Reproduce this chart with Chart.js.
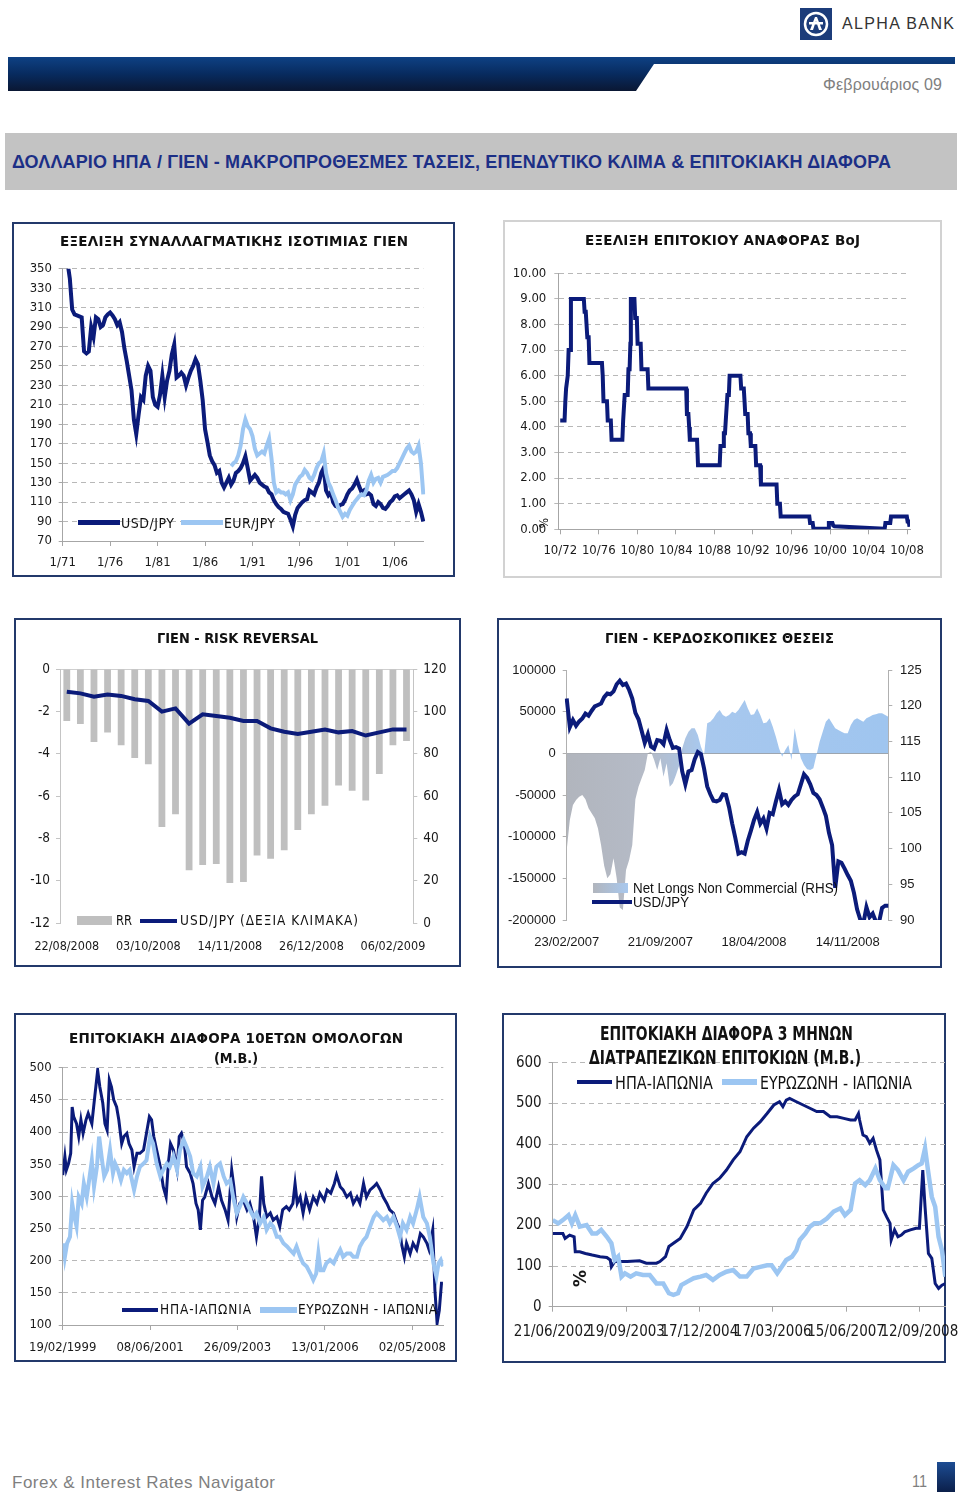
<!DOCTYPE html>
<html lang="el"><head><meta charset="utf-8"><title>USD/JPY</title>
<script src="https://cdn.jsdelivr.net/npm/chart.js@4.4.1/dist/chart.umd.min.js"></script>
<style>
html,body{margin:0;padding:0;background:#fff}
body{position:relative;width:960px;height:1494px;overflow:hidden}
.box{position:absolute;box-sizing:border-box;border:2px solid #23396b;background:#fff}
.t{position:absolute;white-space:nowrap;line-height:1;margin:0}
.r{position:absolute}
canvas{position:absolute}
</style></head><body>
<div class="r" style="left:8px;top:57px;width:947px;height:34px;background:linear-gradient(#0e4184,#082b5f 50%,#0a1733);clip-path:polygon(0 0,947px 0,947px 7px,646px 7px,628px 34px,0 34px)"></div>
<svg class="r" style="left:800px;top:8px" width="32" height="32"><rect width="32" height="32" fill="#1c3c7a"/><circle cx="16" cy="16" r="11" fill="none" stroke="#fff" stroke-width="2.5"/><path d="M10 22 L15 9 L17 9 L22 22 L19 22 L16 13 L13 22 Z M9 14 L23 14 L23 16.5 L9 16.5 Z" fill="#fff"/></svg>
<div class="r" style="left:5px;top:133px;width:952px;height:57px;background:#c3c3c3"></div>
<div class="box" style="left:12px;top:222px;width:443px;height:355px"></div>
<div class="box" style="left:503px;top:220px;width:439px;height:358px;border-color:#d2d2d2"></div>
<div class="box" style="left:14px;top:618px;width:447px;height:349px"></div>
<div class="box" style="left:497px;top:618px;width:445px;height:350px"></div>
<div class="box" style="left:14px;top:1013px;width:443px;height:349px"></div>
<div class="box" style="left:502px;top:1013px;width:444px;height:350px"></div>
<div class="r" style="left:937px;top:1462px;width:18px;height:30px;background:linear-gradient(#1d4c93,#0b1f4a)"></div>
<script>
// ================= DATA =================
// Chart 1: USD/JPY & EUR/JPY (quarterly)
const c1Labels = [];
for (let y = 1971; y <= 2009; y++) for (const m of [1,4,7,10]) { if (y === 2009 && m > 1) break; c1Labels.push(m + '/' + String(y % 100).padStart(2,'0')); }
const c1TickLabels = ['1/71','1/76','1/81','1/86','1/91','1/96','1/01','1/06'];
const c1Usd = [358,358,357,340,308,303,302,301,300,265,
 263,265,290,280,300,298,290,292,300,303,
 305,302,298,292,295,285,268,255,240,225,
 195,180,200,218,215,240,250,245,218,210,
 208,220,240,218,235,245,262,272,238,240,
 243,240,230,238,245,250,257,252,235,215,
 185,172,158,152,148,140,142,130,125,130,
 135,128,132,140,142,145,150,157,145,132,
 135,138,135,130,128,126,125,120,118,112,
 108,105,103,100,99,98,92,85,97,104,
 107,110,112,113,122,120,118,125,130,140,
 145,122,117,120,110,106,105,107,108,112,
 118,122,124,128,133,126,120,122,118,119,
 117,108,106,110,108,104,103,106,110,112,
 116,117,114,116,118,120,122,118,112,100,
 108,100,90];
const c1EurStart = '10/88';
const c1Eur = [147,
 150,152,158,168, 185,195,188,185, 178,165,158,160, 162,160,168,175, 155,130,120,122,
 120,120,118,120, 112,118,128,132, 136,138,143,140, 135,133,138,145, 150,152,160,140,
 130,125,118,112, 105,100,95,98, 96,102,106,110, 113,116,118,117, 122,132,138,130,
 134,135,130,136, 137,138,140,142, 142,145,150,155, 160,165,168,162, 160,162,168,150, 118];

// Chart 2: BoJ reference rate
const c2Years = [1972.75,1973.2,1973.28,1973.36,1973.45,1973.53,1973.62,1973.78,1973.86,
 1975.2,1975.28,1975.4,1975.48,1975.56,1975.7,1975.78,
 1977.08,1977.16,1977.24,1977.6,1977.68,1978.0,1978.08,
 1979.2,1979.28,1979.36,1979.44,1979.75,1979.83,1979.95,1980.03,1980.08,
 1980.45,1980.53,1980.7,1980.78,1981.1,1981.18,1981.82,1981.9,
 1985.82,1985.9,1986.05,1986.13,1986.2,1986.95,1987.05,
 1989.3,1989.38,1989.65,1989.73,1989.85,1989.93,1990.1,1990.25,1990.33,
 1991.45,1991.53,1991.8,1991.88,1991.95,1992.2,1992.28,1992.45,1992.53,1993.0,1993.08,1993.5,1993.58,
 1995.2,1995.28,1995.55,1995.63,1998.6,1998.68,1998.95,1999.03,
 2000.55,2000.63,2001.0,2001.08,2001.2,2006.42,2006.5,2007.0,2007.08,2008.72,2008.8,2008.92,2009.0];
const c2Rates = [4.25,4.25,5.0,5.5,5.5,6.0,7.0,7.0,9.0,
 9.0,8.5,8.5,8.0,7.5,7.5,6.5,
 6.5,6.0,5.0,5.0,4.25,4.25,3.5,
 3.5,4.25,4.25,5.25,5.25,6.25,6.25,7.25,9.0,
 9.0,8.25,8.25,7.25,7.25,6.25,6.25,5.5,
 5.5,4.5,4.5,4.0,3.5,3.5,2.5,
 2.5,3.25,3.25,3.75,3.75,4.25,5.25,5.25,6.0,
 6.0,5.5,5.5,5.0,4.5,4.5,3.75,3.75,3.25,3.25,2.5,2.5,1.75,
 1.75,1.0,1.0,0.5,0.5,0.25,0.25,0.02,
 0.02,0.25,0.25,0.15,0.12,0.02,0.25,0.25,0.5,0.5,0.3,0.3,0.1];
const c2TickYears = [1972.75,1976.75,1980.75,1984.75,1988.75,1992.75,1996.75,2000.75,2004.75,2008.75];
const c2TickLabels = ['10/72','10/76','10/80','10/84','10/88','10/92','10/96','10/00','10/04','10/08'];

// Chart 3: Risk reversal (weekly)
const c3Labels = ['22/08/2008','29/08/2008','05/09/2008','12/09/2008','19/09/2008','26/09/2008','03/10/2008','10/10/2008','17/10/2008','24/10/2008','31/10/2008','07/11/2008','14/11/2008','21/11/2008','28/11/2008','05/12/2008','12/12/2008','19/12/2008','26/12/2008','02/01/2009','09/01/2009','16/01/2009','23/01/2009','30/01/2009','06/02/2009','13/02/2009'];
const c3TickLabels = ['22/08/2008','03/10/2008','14/11/2008','26/12/2008','06/02/2009'];
const c3RR = [-2.45,-2.6,-3.45,-3.0,-3.6,-4.2,-4.5,-7.45,-6.85,-9.5,-9.25,-9.2,-10.1,-10.05,-8.8,-8.95,-8.55,-7.6,-6.85,-6.45,-5.5,-5.75,-6.2,-4.95,-3.6,-3.4];
const c3Usd = [109.3,108.5,106.9,108.0,107.3,105.7,104.9,99.9,101.4,94.2,98.6,97.8,97.0,95.5,95.5,92.0,90.4,89.3,90.4,91.4,90.1,90.7,88.6,90.1,91.5,91.5];

// Chart 4: speculative positions (weekly from 23/02/2007)
const c4Labels = [];
for (let i = 0; i < 104; i++) { const d = new Date(Date.UTC(2007, 1, 23 + 7 * i)); c4Labels.push(String(d.getUTCDate()).padStart(2,'0') + '/' + String(d.getUTCMonth() + 1).padStart(2,'0') + '/' + d.getUTCFullYear()); }
const c4TickLabels = ['23/02/2007','21/09/2007','18/04/2008','14/11/2008'];
const c4Net = [-116000,-80000,-62000,-56000,-52000,-50000,-55000,-66000,-72000,-78000,
 -90000,-110000,-135000,-150000,-145000,-126000,-150000,-185000,-188000,-140000,
 -128000,-110000,-55000,-40000,-30000,-20000,0,2000,-8000,-20000,
 -6000,-28000,-12000,-40000,-36000,-26000,-15000,6000,18000,26000,
 30000,30000,22000,8000,-2000,36000,38000,42000,48000,52000,
 46000,44000,46000,50000,48000,52000,58000,64000,54000,46000,
 47000,54000,46000,36000,37000,42000,32000,20000,6000,-4000,
 4000,10000,-8000,30000,10000,-6000,-14000,-19000,-20000,-18000,
 -2000,14000,26000,38000,42000,36000,30000,28000,26000,24000,
 24000,34000,40000,42000,40000,38000,42000,44000,46000,47000,
 48000,48000,46000,44000];
const c4Usd = [121.0,117.0,118.0,117.2,117.8,118.2,118.9,118.6,119.3,119.9,
 120.1,120.3,121.2,121.7,121.6,122.0,123.0,123.5,122.9,123.1,
 122.2,121.0,119.0,118.1,116.5,114.8,116.0,114.3,114.0,115.2,
 115.1,114.6,116.6,115.2,114.1,114.2,114.0,110.8,109.0,110.8,
 111.0,112.5,113.5,113.2,111.2,108.7,107.6,106.7,106.6,106.8,
 107.6,107.5,105.8,103.5,101.5,99.3,99.5,99.3,101.1,102.5,
 104.0,105.1,103.5,104.2,102.8,105.0,104.8,106.6,108.2,106.2,
 106.6,106.1,106.8,107.3,107.6,109.0,110.4,109.9,109.0,107.8,
 107.5,106.9,105.8,104.6,102.2,100.5,94.5,98.2,98.0,97.2,
 96.3,95.5,93.8,91.5,90.1,89.5,91.8,90.4,90.9,89.8,
 89.6,91.7,92.0,92.0];

// Chart 5: 10y bond spreads (weeks since 19/02/1999)
const c5TickWeeks = [0,120,240,360,480];
const c5TickLabels = ['19/02/1999','08/06/2001','26/09/2003','13/01/2006','02/05/2008'];
const c5UsW = [0,3,5,8,11,13,15,19,22,25,28,32,35,40,44,48,51,55,58,61,64,67,70,74,77,81,84,88,91,95,98,102,106,111,115,119,122,125,129,134,138,142,145,148,152,157,160,163,167,170,175,179,183,186,189,192,195,200,205,209,214,218,223,227,232,235,239,243,248,253,257,262,266,270,273,276,280,285,289,294,298,302,307,311,316,319,322,326,330,334,339,344,349,353,359,363,368,373,376,381,385,390,395,399,404,408,413,417,422,427,431,436,440,445,449,454,459,463,465,469,472,477,481,486,491,495,500,503,508,511,514,517,520,522];
const c5UsV = [333,362,341,351,367,439,424,413,393,419,398,419,429,413,455,496,470,445,413,403,481,470,450,439,419,382,393,398,382,372,346,367,367,372,398,424,419,393,372,346,315,299,351,382,372,341,393,398,382,346,336,320,289,279,248,294,299,320,299,289,315,294,279,263,341,315,268,289,294,279,289,268,237,268,331,289,268,274,263,268,253,279,284,279,289,320,289,299,274,299,279,299,289,305,294,310,305,320,333,315,310,299,305,289,299,289,320,299,310,315,320,310,299,289,279,274,258,248,227,206,227,211,227,217,242,237,227,217,248,154,103,123,165,165];
const c5EuW = [1,3,6,10,13,16,19,22,26,29,33,37,40,43,47,50,54,57,61,65,69,72,76,80,84,88,92,98,102,106,111,115,120,124,129,134,138,143,147,152,157,161,166,170,175,179,184,189,192,198,202,207,211,216,221,225,230,234,239,243,248,253,257,262,266,271,276,280,285,289,294,298,303,308,312,317,321,326,330,335,340,344,348,351,354,358,362,367,372,376,381,385,390,395,399,404,408,413,417,422,427,431,436,440,445,449,454,459,463,467,472,477,481,486,490,495,500,504,509,513,516,519,522];
const c5EuV = [227,206,227,237,289,268,253,299,289,320,299,331,356,315,346,393,356,331,341,372,336,351,341,325,341,336,341,310,331,346,351,356,393,382,351,331,341,351,346,362,341,372,388,377,362,336,331,346,315,331,346,320,346,351,331,320,325,299,274,284,299,289,279,268,274,258,268,248,258,253,237,237,227,222,217,211,222,206,196,191,180,170,180,211,185,185,196,201,196,206,217,206,211,211,206,206,222,232,237,253,268,274,268,263,268,258,268,253,237,258,248,268,258,279,299,268,258,237,196,175,196,201,191];

// Chart 6: 3m interbank spreads (weeks since 21/06/2002)
const c6TickWeeks = [0,65,130,195,260,325];
const c6TickLabels = ['21/06/2002','19/09/2003','17/12/2004','17/03/2006','15/06/2007','12/09/2008'];
const c6UsW = [0,9,11,15,19,20,24,29,35,42,48,51,52,55,60,66,77,83,92,95,100,103,107,113,119,125,131,136,142,148,154,160,166,172,178,184,190,196,201,204,207,210,216,222,228,234,240,246,252,258,264,268,271,272,275,278,281,284,287,290,293,296,299,300,303,306,309,312,317,322,325,328,330,333,336,339,342,345,348];
const c6UsV = [180,180,168,176,172,135,135,131,127,123,121,115,98,111,111,111,113,107,107,111,123,148,156,168,197,238,254,279,303,316,336,361,381,418,439,455,475,496,504,492,508,512,504,496,488,480,480,467,467,463,459,459,475,459,422,418,402,414,385,361,238,221,205,164,189,172,176,184,189,193,193,336,246,131,119,57,45,53,57];
const c6EuW = [0,5,9,14,17,20,24,30,35,39,43,48,52,55,58,61,64,69,74,80,86,92,98,103,107,111,114,119,125,131,136,142,148,154,160,166,172,178,184,190,194,199,203,207,212,216,219,224,228,232,237,243,249,255,259,264,268,272,277,281,286,290,295,297,302,306,311,315,320,324,327,330,333,336,339,342,345,348];
const c6EuV = [213,205,213,225,205,225,197,201,180,180,189,172,156,115,123,74,82,74,82,78,78,57,57,33,29,33,53,61,70,74,78,66,78,86,90,74,74,94,98,102,102,82,98,115,123,139,164,180,197,205,205,217,234,242,225,238,303,311,299,311,340,311,291,291,348,336,311,332,340,348,352,389,328,270,246,172,139,74];

// ================= STYLE =================
const NAVY = '#0b1b7a', LIGHT = '#9cc6f2', GRID = '#b8b8b8', AX = '#a6a6a6', TXT = '#1a1a1a';
const COND = "'DejaVu Sans Condensed','DejaVu Sans',sans-serif";
const SANS = "'DejaVu Sans',sans-serif";
const ARIAL = "'Liberation Sans',Arial,sans-serif";

function mk(x, y, w, h) {
  const c = document.createElement('canvas');
  c.width = w; c.height = h;
  c.style.cssText = `left:${x}px;top:${y}px;width:${w}px;height:${h}px`;
  document.body.appendChild(c);
  return c;
}
const fixY = w => (s => { s.width = w; s.paddingTop = 0; s.paddingBottom = 0; });
const fixX = h => (s => { s.height = h; s.paddingLeft = 0; s.paddingRight = 0; });
const F = (size, fam) => ({ family: fam || COND, size });
function base(p, scales) {
  return {
    responsive: false, animation: false,
    layout: { autoPadding: false, padding: { left: p.l, right: p.r, top: p.t, bottom: p.b } },
    plugins: { legend: { display: false }, tooltip: { enabled: false }, title: { display: false } },
    elements: { point: { radius: 0 }, line: { tension: 0 } },
    scales
  };
}
const onlyTicks = (labels, list) => (s => { s.ticks = s.ticks.filter(t => list.includes(labels[t.value])); });
const setTicks = list => (s => { s.ticks = list.map(v => ({ value: v })); });

// ---------- Chart 1 ----------
const eurOff = c1Labels.indexOf(c1EurStart);
new Chart(mk(12, 222, 443, 355), {
  type: 'line',
  data: { labels: c1Labels, datasets: [
    { label: 'EUR/JPY', data: c1Eur.map((v, i) => ({ x: c1Labels[eurOff + i], y: v })), borderColor: LIGHT, borderWidth: 4 },
    { label: 'USD/JPY', data: c1Usd, borderColor: NAVY, borderWidth: 4 }
  ]},
  options: base({ l: 10.7, r: 31.7, t: 46.7, b: 6 }, {
    x: { type: 'category', afterFit: fixX(30), afterBuildTicks: onlyTicks(c1Labels, c1TickLabels),
      ticks: { autoSkip: false, maxRotation: 0, minRotation: 0, padding: 9, font: F(13), color: TXT },
      grid: { drawOnChartArea: false, tickLength: 5, color: AX }, border: { color: AX } },
    y: { min: 70, max: 350, afterFit: fixY(40),
      ticks: { stepSize: 20, padding: 6.7, font: F(13), color: TXT },
      grid: { color: GRID, tickLength: 4, tickColor: AX }, border: { color: AX, dash: [5, 4] } }
  })
});

// ---------- Chart 2 ----------
new Chart(mk(503, 220, 439, 358), {
  type: 'line',
  data: { datasets: [{ label: 'BoJ', data: c2Years.map((x, i) => ({ x, y: c2Rates[i] })), borderColor: NAVY, borderWidth: 4 }] },
  options: base({ l: 10.3, r: 32, t: 53.3, b: 18.7 }, {
    x: { type: 'linear', min: 1972.55, max: 2009.05, afterFit: fixX(30), afterBuildTicks: setTicks(c2TickYears),
      ticks: { autoSkip: false, maxRotation: 0, minRotation: 0, padding: 9, font: F(13), color: TXT, callback: (v, i) => c2TickLabels[i] },
      grid: { drawOnChartArea: false, tickLength: 5, color: AX }, border: { color: AX } },
    y: { min: 0, max: 10, afterFit: fixY(45),
      ticks: { stepSize: 1, padding: 8, font: F(13), color: TXT, callback: v => Number(v).toFixed(2) },
      grid: { color: GRID, tickLength: 4, tickColor: GRID }, border: { color: AX, dash: [5, 4] } }
  })
});

// ---------- Chart 3 ----------
new Chart(mk(14, 618, 447, 349), {
  type: 'bar',
  data: { labels: c3Labels, datasets: [
    { type: 'line', label: 'USD/JPY', data: c3Usd, yAxisID: 'yR', borderColor: NAVY, borderWidth: 4 },
    { type: 'bar', label: 'RR', data: c3RR, yAxisID: 'yL', backgroundColor: '#bfbfbf', categoryPercentage: 1, barPercentage: 0.5 }
  ]},
  options: base({ l: 10, r: 9.7, t: 51, b: 13.7 }, {
    x: { type: 'category', offset: true, afterFit: fixX(30), afterBuildTicks: onlyTicks(c3Labels, c3TickLabels),
      ticks: { autoSkip: false, maxRotation: 0, minRotation: 0, padding: 16, font: F(12.5), color: TXT },
      grid: { display: false, drawTicks: false }, border: { display: false } },
    yL: { position: 'left', min: -12, max: 0, afterFit: fixY(36),
      ticks: { stepSize: 2, padding: 6, font: F(13.5), color: TXT },
      grid: { color: c => (c.tick && c.tick.value === 0) ? '#cfcfcf' : 'rgba(0,0,0,0)', tickColor: '#c4c4c4', tickLength: 4 },
      border: { color: '#c4c4c4' } },
    yR: { position: 'right', min: 0, max: 120, afterFit: fixY(38),
      ticks: { stepSize: 20, padding: 6, font: F(13.5), color: TXT },
      grid: { drawOnChartArea: false, tickColor: '#c4c4c4', tickLength: 4 }, border: { color: '#c4c4c4' } }
  })
});

// ---------- Chart 4 ----------
const grad4 = ctx => {
  const ch = ctx.chart, ca = ch.chartArea;
  if (!ca) return '#a9c6ea';
  const g = ch.ctx.createLinearGradient(ca.left, 0, ca.right, 0);
  g.addColorStop(0, '#b1b5bd'); g.addColorStop(0.25, '#b5bbc7'); g.addColorStop(0.42, '#a8c8ee'); g.addColorStop(1, '#9fc5ef');
  return g;
};
new Chart(mk(497, 618, 445, 350), {
  type: 'line',
  data: { labels: c4Labels, datasets: [
    { label: 'USD/JPY', data: c4Usd, yAxisID: 'yR', borderColor: NAVY, borderWidth: 4 },
    { label: 'Net Longs Non Commercial (RHS)', data: c4Net, yAxisID: 'yL', borderColor: 'rgba(0,0,0,0)', borderWidth: 1, fill: 'origin', backgroundColor: grad4 }
  ]},
  options: base({ l: 10.7, r: 11.7, t: 52, b: 18 }, {
    x: { type: 'category', afterFit: fixX(30), afterBuildTicks: onlyTicks(c4Labels, c4TickLabels),
      ticks: { autoSkip: false, maxRotation: 0, minRotation: 0, padding: 15, font: F(13, ARIAL), color: TXT },
      grid: { display: false, drawTicks: false }, border: { display: false } },
    yL: { position: 'left', min: -200000, max: 100000, afterFit: fixY(59),
      ticks: { stepSize: 50000, padding: 7, font: F(13, ARIAL), color: TXT, callback: v => String(v) },
      grid: { color: c => (c.tick && c.tick.value === 0) ? '#9a9a9a' : 'rgba(0,0,0,0)', tickColor: '#b0b0b0', tickLength: 4 },
      border: { color: '#b0b0b0' } },
    yR: { position: 'right', min: 90, max: 125, afterFit: fixY(42),
      ticks: { stepSize: 5, padding: 7.7, font: F(13, ARIAL), color: TXT },
      grid: { drawOnChartArea: false, tickColor: '#b0b0b0', tickLength: 4 }, border: { color: '#b0b0b0' } }
  })
});

// ---------- Chart 5 ----------
new Chart(mk(14, 1013, 443, 349), {
  type: 'line',
  data: { datasets: [
    { label: 'ΕΥΡΩΖΩΝΗ - ΙΑΠΩΝΙΑ', data: c5EuW.map((x, i) => ({ x, y: c5EuV[i] })), borderColor: LIGHT, borderWidth: 4 },
    { label: 'ΗΠΑ-ΙΑΠΩΝΙΑ', data: c5UsW.map((x, i) => ({ x, y: c5UsV[i] })), borderColor: NAVY, borderWidth: 3 }
  ]},
  options: base({ l: 10.7, r: 13.7, t: 54.7, b: 7 }, {
    x: { type: 'linear', min: 0, max: 522.5, afterFit: fixX(30), afterBuildTicks: setTicks(c5TickWeeks),
      ticks: { autoSkip: false, maxRotation: 0, minRotation: 0, padding: 10, font: F(13), color: TXT, callback: (v, i) => c5TickLabels[i] },
      grid: { drawOnChartArea: false, tickLength: 5, color: AX }, border: { color: AX } },
    y: { min: 100, max: 500, afterFit: fixY(38),
      ticks: { stepSize: 50, padding: 7, font: F(13), color: TXT },
      grid: { color: GRID, tickLength: 4, tickColor: AX }, border: { color: AX, dash: [5, 4] } }
  })
});

// ---------- Chart 6 ----------
new Chart(mk(502, 1013, 458, 350), {
  type: 'line',
  data: { datasets: [
    { label: 'ΕΥΡΩΖΩΝΗ - ΙΑΠΩΝΙΑ', data: c6EuW.map((x, i) => ({ x, y: c6EuV[i] })), borderColor: LIGHT, borderWidth: 4.5 },
    { label: 'ΗΠΑ-ΙΑΠΩΝΙΑ', data: c6UsW.map((x, i) => ({ x, y: c6UsV[i] })), borderColor: NAVY, borderWidth: 3 }
  ]},
  options: base({ l: 11.7, r: 15, t: 49.7, b: 21.3 }, {
    x: { type: 'linear', min: 0, max: 347.7, afterFit: fixX(35), afterBuildTicks: setTicks(c6TickWeeks),
      ticks: { autoSkip: false, maxRotation: 0, minRotation: 0, padding: 11, font: F(15), color: TXT, callback: (v, i) => c6TickLabels[i] },
      grid: { drawOnChartArea: false, tickLength: 5, color: AX }, border: { color: AX } },
    y: { min: 0, max: 600, afterFit: fixY(39),
      ticks: { stepSize: 100, padding: 7, font: F(15), color: TXT },
      grid: { color: GRID, tickLength: 4, tickColor: AX }, border: { color: AX, dash: [5, 4] } }
  })
});

// ================= TEXT =================
function fit(el, w) {
  const nat = el.getBoundingClientRect().width;
  const n = el.textContent.length;
  if (nat < w && n > 1) el.style.letterSpacing = ((w - nat) / (n - 1)) + 'px';
  else if (nat > w) { el.style.transformOrigin = '0 50%'; el.style.transform = 'scaleX(' + (w / nat) + ')'; }
}
function T(txt, x, cy, w, size, o) {
  o = o || {};
  const el = document.createElement('div');
  el.className = 't';
  el.textContent = txt;
  el.style.left = x + 'px';
  el.style.top = (cy - size / 2) + 'px';
  el.style.fontSize = size + 'px';
  el.style.fontFamily = o.font || SANS;
  el.style.fontWeight = o.bold ? 'bold' : 'normal';
  el.style.color = o.color || '#111';
  if (o.rot) { el.style.transform = 'rotate(' + o.rot + 'deg)'; el.style.transformOrigin = '50% 50%'; }
  document.body.appendChild(el);
  if (w) fit(el, w);
  return el;
}
function S(x1, x2, cy, th, bg) {
  const d = document.createElement('div');
  d.className = 'r';
  d.style.cssText = `left:${x1}px;top:${cy - th / 2}px;width:${x2 - x1}px;height:${th}px;background:${bg}`;
  document.body.appendChild(d);
}
// header / footer
T('ALPHA BANK', 842, 24, 112, 16, { font: ARIAL, color: '#333' });
T('Φεβρουάριος 09', 823, 85, 119, 16, { font: ARIAL, color: '#808080' });
T('ΔΟΛΛΑΡΙΟ ΗΠΑ / ΓΙΕΝ - ΜΑΚΡΟΠΡΟΘΕΣΜΕΣ ΤΑΣΕΙΣ, ΕΠΕΝΔΥΤΙΚΟ ΚΛΙΜΑ & ΕΠΙΤΟΚΙΑΚΗ ΔΙΑΦΟΡΑ', 12, 162, 879, 18, { font: ARIAL, bold: true, color: '#1c2f86' });
T('Forex & Interest Rates Navigator', 12, 1482, 263, 17, { font: ARIAL, color: '#7f7f7f' });
T('11', 912, 1482, 15, 16, { font: ARIAL, color: '#7f7f7f' });
// chart 1
T('ΕΞΕΛΙΞΗ ΣΥΝΑΛΛΑΓΜΑΤΙΚΗΣ ΙΣΟΤΙΜΙΑΣ ΓΙΕΝ', 60, 241.5, 348, 13.5, { bold: true });
S(78, 120, 522.5, 5, NAVY); T('USD/JPY', 121, 522.5, 53, 14, { font: COND });
S(181, 223, 522.5, 5, LIGHT); T('EUR/JPY', 224, 522.5, 51, 14, { font: COND });
// chart 2
T('ΕΞΕΛΙΞΗ ΕΠΙΤΟΚΙΟΥ ΑΝΑΦΟΡΑΣ BoJ', 585, 240.5, 275, 13.5, { bold: true });
T('%', 539, 523, 0, 12, { font: COND, rot: -90 });
// chart 3
T('ΓΙΕΝ - RISK REVERSAL', 157, 638.5, 161, 13.5, { bold: true });
S(77, 112, 920.5, 9, '#bfbfbf'); T('RR', 116, 920.5, 16, 13.5, { font: COND });
S(140, 177, 920.5, 4, NAVY); T('USD/JPY (ΔΕΞΙΑ ΚΛΙΜΑΚΑ)', 180, 920.5, 178, 13.5, { font: COND });
// chart 4
T('ΓΙΕΝ - ΚΕΡΔΟΣΚΟΠΙΚΕΣ ΘΕΣΕΙΣ', 605, 639, 229, 13.5, { bold: true });
S(593, 628, 888, 10, 'linear-gradient(90deg,#b1b5bd,#a8c8ee)'); T('Net Longs Non Commercial (RHS)', 633, 888, 205, 14, { font: ARIAL });
S(592, 632, 902, 4.5, NAVY); T('USD/JPY', 633, 902, 56, 14, { font: ARIAL });
// chart 5
T('ΕΠΙΤΟΚΙΑΚΗ ΔΙΑΦΟΡΑ 10ΕΤΩΝ ΟΜΟΛΟΓΩΝ', 69, 1038.5, 334, 13.5, { bold: true });
T('(Μ.Β.)', 214, 1059, 44, 13.5, { bold: true });
S(122, 158, 1310, 3.5, NAVY); T('ΗΠΑ-ΙΑΠΩΝΙΑ', 160, 1310, 91, 13.5, { font: COND });
S(260, 297, 1310, 6, LIGHT); T('ΕΥΡΩΖΩΝΗ - ΙΑΠΩΝΙΑ', 298, 1310, 139, 13.5, { font: COND });
// chart 6
T('ΕΠΙΤΟΚΙΑΚΗ ΔΙΑΦΟΡΑ 3 ΜΗΝΩΝ', 600, 1033.5, 253, 19, { bold: true });
T('ΔΙΑΤΡΑΠΕΖΙΚΩΝ ΕΠΙΤΟΚΙΩΝ (Μ.Β.)', 589, 1057, 272, 19, { bold: true });
S(577, 612, 1082, 4, NAVY); T('ΗΠΑ-ΙΑΠΩΝΙΑ', 615, 1083, 98, 18, { font: COND });
S(722, 757, 1082, 6, LIGHT); T('ΕΥΡΩΖΩΝΗ - ΙΑΠΩΝΙΑ', 760, 1083, 152, 18, { font: COND });
T('%', 572, 1278, 0, 17, { font: SANS, bold: true, rot: -90 });
</script>
</body></html>
